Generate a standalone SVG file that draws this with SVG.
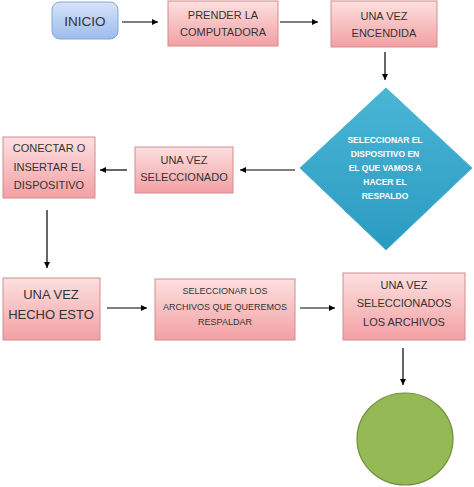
<svg xmlns="http://www.w3.org/2000/svg" width="474" height="487" viewBox="0 0 474 487">
<defs>
<linearGradient id="pink" x1="0" y1="0" x2="0" y2="1">
<stop offset="0" stop-color="#fde0e0"/>
<stop offset="1" stop-color="#f3a0a3"/>
</linearGradient>
<linearGradient id="blue" x1="0" y1="0" x2="0" y2="1">
<stop offset="0" stop-color="#d6e4f8"/>
<stop offset="1" stop-color="#9dbcec"/>
</linearGradient>
<linearGradient id="teal" x1="0" y1="0" x2="0" y2="1">
<stop offset="0" stop-color="#4ab6d6"/>
<stop offset="1" stop-color="#2b9ac0"/>
</linearGradient>
<marker id="ah" viewBox="0 0 10 10" refX="10" refY="5" markerWidth="6" markerHeight="6" orient="auto" markerUnits="userSpaceOnUse">
<path d="M0,0 L10,5 L0,10 z" fill="#000"/>
</marker>
</defs>
<style>
.box{fill:url(#pink);stroke:#d28c8e;stroke-width:1}
.t{font-family:"Liberation Sans",Arial,sans-serif;fill:#333333;text-anchor:middle}
.m{font-size:11px}
.s{font-size:9px}
.l{font-size:13px}
.d{font-family:"Liberation Sans",Arial,sans-serif;fill:#ffffff;font-weight:bold;font-size:8.5px;text-anchor:middle}
.c{stroke:#000;stroke-width:1.2;fill:none;marker-end:url(#ah)}
</style>
<rect width="474" height="487" fill="#ffffff"/>
<g id="connectors">
<line class="c" x1="122" y1="22" x2="158" y2="22"/>
<line class="c" x1="280" y1="22" x2="318" y2="22"/>
<line class="c" x1="385" y1="52" x2="385" y2="80"/>
<line class="c" x1="295" y1="170" x2="240" y2="170"/>
<line class="c" x1="127" y1="170" x2="100" y2="170"/>
<line class="c" x1="47" y1="210" x2="47" y2="268"/>
<line class="c" x1="107" y1="308" x2="147" y2="308"/>
<line class="c" x1="300" y1="308" x2="335" y2="308"/>
<line class="c" x1="403" y1="348" x2="403" y2="385"/>
</g>
<g id="inicio">
<rect x="52" y="2" width="66" height="37" rx="8" fill="url(#blue)" stroke="#86a6d8"/>
<text class="t" x="85" y="26" font-size="13.5">INICIO</text>
</g>
<g id="prender">
<rect class="box" x="168" y="1" width="110" height="45"/>
<text class="t m" x="223" y="19">PRENDER LA</text>
<text class="t m" x="223" y="36">COMPUTADORA</text>
</g>
<g id="encendida">
<rect class="box" x="331" y="1" width="106" height="46"/>
<text class="t m" x="384" y="20">UNA VEZ</text>
<text class="t m" x="384" y="37">ENCENDIDA</text>
</g>
<g id="seleccionar-dispositivo">
<polygon points="386,88 472,168 386,250 300,168" fill="url(#teal)" stroke="#4fb3d2"/>
<text class="d" x="385" y="143">SELECCIONAR EL</text>
<text class="d" x="385" y="157">DISPOSITIVO EN</text>
<text class="d" x="385" y="171">EL QUE VAMOS A</text>
<text class="d" x="385" y="185">HACER EL</text>
<text class="d" x="385" y="199">RESPALDO</text>
</g>
<g id="seleccionado">
<rect class="box" x="135" y="147" width="98" height="46"/>
<text class="t m" x="184" y="164">UNA VEZ</text>
<text class="t m" x="184" y="181">SELECCIONADO</text>
</g>
<g id="conectar">
<rect class="box" x="3" y="137" width="92" height="61"/>
<text class="t m" x="49" y="152">CONECTAR O</text>
<text class="t m" x="49" y="171">INSERTAR EL</text>
<text class="t m" x="49" y="189">DISPOSITIVO</text>
</g>
<g id="hecho">
<rect class="box" x="3" y="278" width="97" height="62"/>
<text class="t l" x="51" y="299">UNA VEZ</text>
<text class="t l" x="51" y="319">HECHO ESTO</text>
</g>
<g id="seleccionar-archivos">
<rect class="box" x="155" y="279" width="140" height="61"/>
<text class="t s" x="225" y="294">SELECCIONAR LOS</text>
<text class="t s" x="225" y="310">ARCHIVOS QUE QUEREMOS</text>
<text class="t s" x="225" y="325">RESPALDAR</text>
</g>
<g id="seleccionados">
<rect class="box" x="343" y="273" width="122" height="67"/>
<text class="t m" x="404" y="289">UNA VEZ</text>
<text class="t m" x="404" y="307">SELECCIONADOS</text>
<text class="t m" x="404" y="326">LOS ARCHIVOS</text>
</g>
<g id="fin">
<ellipse cx="405" cy="439" rx="48" ry="46" fill="#95b955" stroke="#6f8f3a" stroke-width="1.2"/>
</g>
</svg>
